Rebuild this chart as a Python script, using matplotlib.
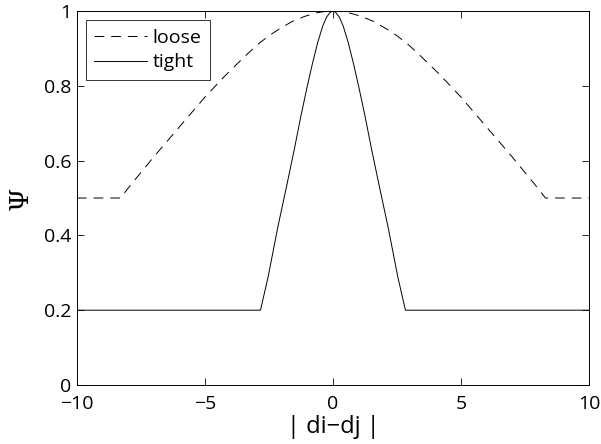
import matplotlib
matplotlib.use("Agg")
import matplotlib.pyplot as plt

# values
loose_x = [-10, -8.3, -7.9, -7.0, -6.0, -5.0, -4.2, -3.8, -3.3, -2.9, -2.5, -2.1, -1.6, -1.1, -0.6, -0.3, 0,
           0.3, 0.6, 1.1, 1.6, 2.1, 2.5, 2.9, 3.3, 3.8, 4.2, 5.0, 6.0, 7.0, 7.9, 8.3, 10]
loose_y = [0.5, 0.5, 0.535, 0.61, 0.69, 0.77, 0.828, 0.855, 0.888, 0.913, 0.934, 0.952, 0.972, 0.986, 0.996, 0.999, 1.0,
           0.999, 0.996, 0.986, 0.972, 0.952, 0.934, 0.913, 0.888, 0.855, 0.828, 0.77, 0.69, 0.61, 0.535, 0.5, 0.5]

tight_x = [-10, -2.83, -2.53, -2.16, -1.8, -1.51, -1.25, -1.0, -0.8, -0.6, -0.4, -0.25, -0.1, 0,
           0.1, 0.25, 0.4, 0.6, 0.8, 1.0, 1.25, 1.51, 1.8, 2.16, 2.53, 2.83, 10]
tight_y = [0.2, 0.2, 0.29, 0.42, 0.535, 0.63, 0.72, 0.8, 0.86, 0.915, 0.96, 0.984, 0.997, 1.0,
           0.997, 0.984, 0.96, 0.915, 0.86, 0.8, 0.72, 0.63, 0.535, 0.42, 0.29, 0.2, 0.2]

x_ticks = [-10, -5, 0, 5, 10]
y_ticks = [0, 0.2, 0.4, 0.6, 0.8, 1]
y_tick_labels = ["0", "0.2", "0.4", "0.6", "0.8", "1"]

plt.rcParams['font.family'] = ['Open Sans', 'DejaVu Sans']
plt.rcParams['lines.scale_dashes'] = False

fig = plt.figure(figsize=(6.01, 4.44), dpi=100)
ax = fig.add_axes([0.128, 0.133, 0.852, 0.842])

ax.plot(loose_x, loose_y, color='black', lw=0.7, dashes=(7, 5), label='loose')
ax.plot(tight_x, tight_y, color='black', lw=0.7, label='tight')

ax.set_xlim(-10, 10)
ax.set_ylim(0, 1)
ax.set_xticks(x_ticks)
ax.set_xticklabels([str(t).replace('-', '\u2212') for t in x_ticks])
ax.set_yticks(y_ticks)
ax.set_yticklabels(y_tick_labels)
ax.tick_params(direction='in', length=5, width=0.6, top=True, right=True,
               labelsize=14)
ax.tick_params(axis='x', pad=7)
ax.tick_params(axis='y', pad=4)
for s in ax.spines.values():
    s.set_linewidth(0.7)

ax.set_xlabel('| di\u2212dj |', fontsize=17, labelpad=2)
ax.set_ylabel('\u03a8', fontsize=19, family='DejaVu Serif', labelpad=8)

leg = ax.legend(loc='upper left', fontsize=14, frameon=True, fancybox=False,
                edgecolor='black', handlelength=2.7, borderpad=0.45,
                labelspacing=0.35, handletextpad=0.3, borderaxespad=0.45)
leg.get_frame().set_linewidth(0.7)

fig.savefig('out.png', dpi=100)
